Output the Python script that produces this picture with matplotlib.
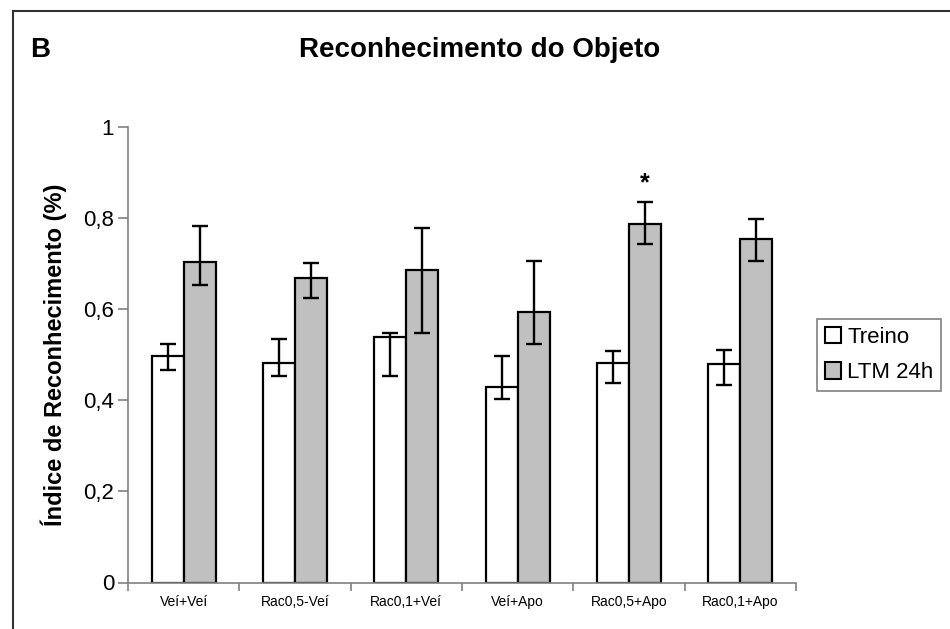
import numpy as np
import matplotlib
matplotlib.use('Agg')
import matplotlib.pyplot as plt
from matplotlib.patches import Patch
from matplotlib.lines import Line2D

plt.rcParams['font.family'] = ['Liberation Sans', 'DejaVu Sans']

grupos = ['Veí+Veí', 'Rac0,5-Veí', 'Rac0,1+Veí', 'Veí+Apo', 'Rac0,5+Apo', 'Rac0,1+Apo']

treino = [0.498, 0.482, 0.539, 0.430, 0.481, 0.479]
treino_sup = [0.524, 0.535, 0.548, 0.497, 0.508, 0.510]
treino_inf = [0.467, 0.453, 0.453, 0.403, 0.437, 0.434]

ltm = [0.703, 0.667, 0.685, 0.593, 0.786, 0.754]
ltm_sup = [0.782, 0.701, 0.778, 0.705, 0.835, 0.798]
ltm_inf = [0.652, 0.625, 0.547, 0.524, 0.742, 0.705]

sig = [False, False, False, False, True, False]

treino = np.array(treino)
ltm = np.array(ltm)
err_t = [treino - np.array(treino_inf), np.array(treino_sup) - treino]
err_l = [ltm - np.array(ltm_inf), np.array(ltm_sup) - ltm]

fig = plt.figure(figsize=(9.5, 6.29), dpi=100)
ax = fig.add_axes([128/950, 1 - 582.5/629, (796 - 128)/950, (582.5 - 126.7)/629])

x = np.arange(len(grupos))
w = 0.288
ax.bar(x - w/2, treino, w, color='white', edgecolor='black', linewidth=1.6, zorder=2)
ax.bar(x + w/2, ltm, w, color='#c0c0c0', edgecolor='black', linewidth=1.6, zorder=2)
ax.errorbar(x - w/2, treino, yerr=err_t, fmt='none', ecolor='black', elinewidth=1.7,
            capsize=5.5, capthick=1.7, zorder=3)
ax.errorbar(x + w/2, ltm, yerr=err_l, fmt='none', ecolor='black', elinewidth=1.7,
            capsize=5.5, capthick=1.7, zorder=3)

for i in range(len(grupos)):
    if sig[i]:
        ax.text(x[i] + w/2, ltm_sup[i] + 0.04, '*', ha='center', va='center',
                fontsize=18, fontweight='bold')

ax.set_xlim(-0.5, len(grupos) - 0.5)
ax.set_ylim(0, 1)
ax.set_yticks([0, 0.2, 0.4, 0.6, 0.8, 1.0])
ax.set_yticklabels(['0', '0,2', '0,4', '0,6', '0,8', '1'], fontsize=16)
ax.set_xticks(np.arange(len(grupos) + 1) - 0.5)
ax.set_xticklabels([])
ax.set_xticks(x, minor=True)
ax.set_xticklabels(grupos, minor=True, fontsize=10)
ax.tick_params(axis='x', which='minor', length=0, pad=9)
ax.tick_params(axis='x', which='major', length=6, color='#808080', width=1.2)
ax.tick_params(axis='y', length=7, color='#808080', width=1.2, pad=3)

for s in ['top', 'right']:
    ax.spines[s].set_visible(False)
for s in ['left', 'bottom']:
    ax.spines[s].set_color('#808080')
    ax.spines[s].set_linewidth(1.2)

ax.set_ylabel('Índice de Reconhecimento (%)', fontsize=17, fontweight='bold', labelpad=12)

fig.text(0.505, 1 - 50/629, 'Reconhecimento do Objeto', ha='center', va='center',
         fontsize=20, fontweight='bold')
fig.text(30/950, 1 - 50/629, 'B', ha='left', va='center', fontsize=20, fontweight='bold')

handles = [Patch(facecolor='white', edgecolor='black', linewidth=1.5, label='Treino'),
           Patch(facecolor='#c0c0c0', edgecolor='black', linewidth=1.5, label='LTM 24h')]
leg = fig.legend(handles=handles, loc='upper left', bbox_to_anchor=(817/950, 1 - 319/629),
                 fontsize=16, frameon=True, fancybox=False, handlelength=0.75,
                 handleheight=0.75, handletextpad=0.25, borderpad=0.35, labelspacing=0.65,
                 borderaxespad=0)
leg.get_frame().set_edgecolor('#606060')
leg.get_frame().set_linewidth(1.2)

# moldura da figura (esquerda e topo)
fig.add_artist(Line2D([13/950, 13/950], [0, 1 - 11/629], transform=fig.transFigure,
                      color='#333333', linewidth=1.5))
fig.add_artist(Line2D([13/950, 1], [1 - 11/629, 1 - 11/629], transform=fig.transFigure,
                      color='#333333', linewidth=1.5))

fig.savefig('out.png', dpi=100)
